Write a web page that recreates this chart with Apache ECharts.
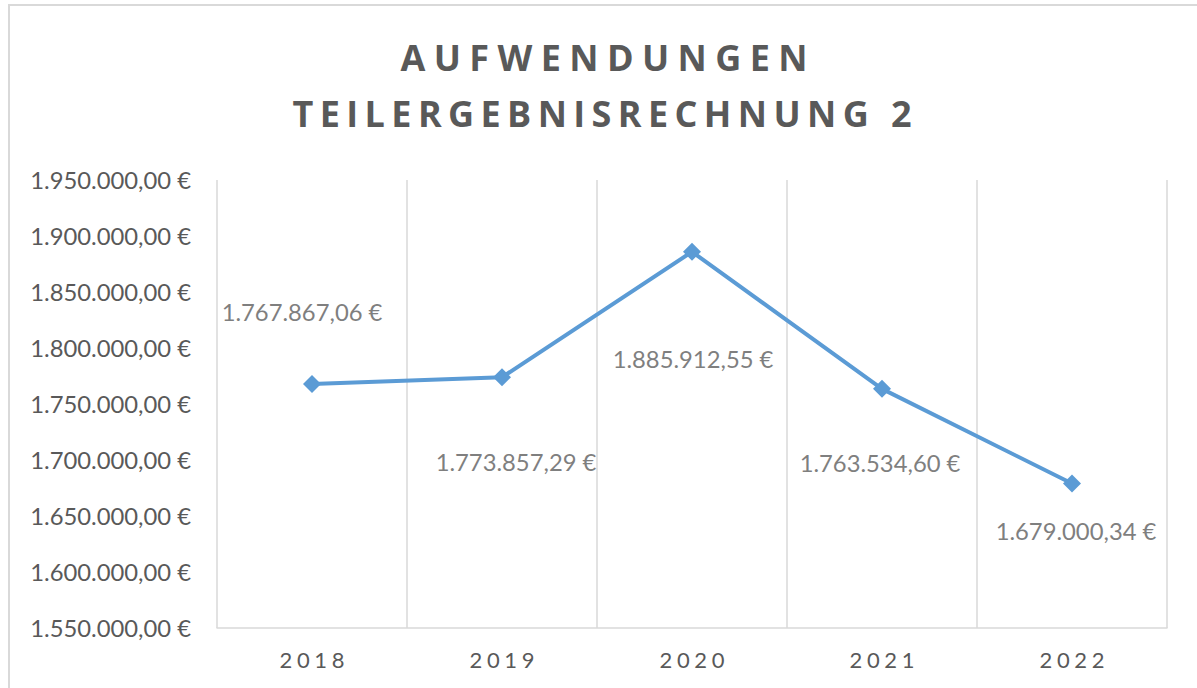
<!DOCTYPE html>
<html>
<head>
<meta charset="utf-8">
<script src="https://cdn.jsdelivr.net/npm/echarts@6/dist/echarts.min.js"></script>
<style>
html,body{margin:0;padding:0;background:#fff;}
#chart{width:1197px;height:688px;}
</style>
</head>
<body>
<div id="chart"></div>
<script>
// ---- data ----
const titleLines = ['AUFWENDUNGEN', 'TEILERGEBNISRECHNUNG 2'];
const years = ['2018', '2019', '2020', '2021', '2022'];
const values = [1767867.06, 1773857.29, 1885912.55, 1763534.60, 1679000.34];
const yMin = 1550000, yMax = 1950000, yStep = 50000;

// ---- layout / style (not data) ----
const labelOffsets = [[-10, -72], [14, 85], [1, 107], [-2, 74], [4, 47]];
const grey = '#595959';
const blue = '#5b9bd5';

function fmt(v) {
  const parts = Number(v).toFixed(2).split('.');
  const intPart = parts[0].replace(/\B(?=(\d{3})+(?!\d))/g, '.');
  return intPart + ',' + parts[1] + ' €';
}

const chart = echarts.init(document.getElementById('chart'), null, {renderer: 'svg'});
const titleStyle = {textAlign: 'center', textVerticalAlign: 'middle', fill: grey,
                    fontSize: 36, fontWeight: 'bold', fontFamily: 'Open Sans'};
const option = {
  animation: false,
  backgroundColor: '#fff',
  graphic: [
    {type: 'rect', z: -10, shape: {x: 9, y: 5, width: 1250, height: 750},
     style: {fill: 'none', stroke: '#d9d9d9', lineWidth: 2}},
    {type: 'text', x: 604, y: 57,
     style: Object.assign({text: titleLines[0]}, titleStyle)},
    {type: 'text', x: 602, y: 113,
     style: Object.assign({text: titleLines[1]}, titleStyle)}
  ],
  grid: {left: 217, right: 30, top: 180, bottom: 60},
  xAxis: {
    type: 'category',
    data: years,
    boundaryGap: true,
    axisLine: {show: true, lineStyle: {color: '#d9d9d9', width: 1.5}},
    axisTick: {show: false},
    splitLine: {show: true, lineStyle: {color: '#d9d9d9', width: 1.5}},
    axisLabel: {color: grey, fontSize: 22, fontFamily: 'Lato', margin: 20}
  },
  yAxis: {
    type: 'value',
    min: yMin, max: yMax, interval: yStep,
    axisLine: {show: false},
    axisTick: {show: false},
    splitLine: {show: false},
    axisLabel: {color: grey, fontSize: 23.8, fontFamily: 'Lato', margin: 26,
                formatter: v => fmt(v)}
  },
  series: [{
    type: 'line',
    data: values.map((v, i) => ({value: v, label: {offset: labelOffsets[i]}})),
    symbol: 'diamond',
    symbolSize: 18,
    itemStyle: {color: blue},
    lineStyle: {color: blue, width: 4},
    label: {
      show: true, position: 'inside', align: 'center', verticalAlign: 'middle',
      color: '#7f7f7f', fontSize: 23.8, fontFamily: 'Lato',
      formatter: p => fmt(p.value)
    }
  }]
};
chart.setOption(option);

function spaceOut() {
  const texts = document.querySelectorAll('#chart svg text');
  texts.forEach(t => {
    if (t.dataset.adj) return;
    const s = t.textContent;
    let target = null;
    if (s === titleLines[0]) target = 407;
    else if (s === titleLines[1]) target = 619;
    else if (years.includes(s)) target = 65;
    if (target == null) return;
    const w0 = t.getComputedTextLength();
    const sp = (target - w0) / (s.length - 1);
    t.style.letterSpacing = sp.toFixed(2) + 'px';
    const anchor = t.getAttribute('text-anchor') || 'start';
    let dx = 0;
    if (anchor === 'middle') dx = sp / 2;
    else if (anchor === 'start') dx = -(target - w0) / 2;
    t.setAttribute('dx', dx.toFixed(2));
    t.dataset.adj = '1';
  });
}
spaceOut();
chart.on('finished', spaceOut);
setTimeout(spaceOut, 50);
</script>
</body>
</html>
